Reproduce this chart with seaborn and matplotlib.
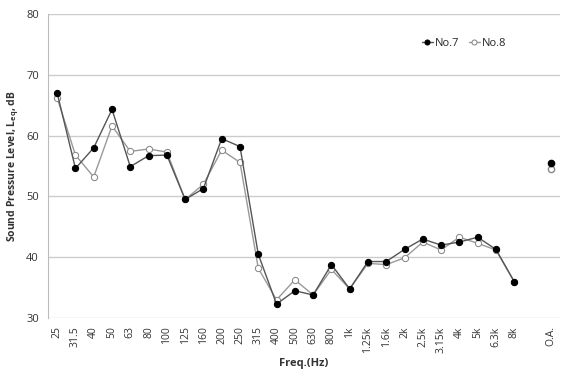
import matplotlib
matplotlib.use("Agg")
import matplotlib.pyplot as plt
import numpy as np
import pandas as pd
import seaborn as sns

freqs = ["25", "31.5", "40", "50", "63", "80", "100", "125", "160", "200", "250",
         "315", "400", "500", "630", "800", "1k", "1.25k", "1.6k", "2k", "2.5k",
         "3.15k", "4k", "5k", "6.3k", "8k"]
no7 = [67.0, 54.6, 58.0, 64.3, 54.9, 56.7, 56.8, 49.5, 51.3, 59.5, 58.2,
       40.5, 32.3, 34.5, 33.8, 38.8, 34.8, 39.3, 39.3, 41.3, 43.0,
       42.0, 42.5, 43.3, 41.3, 36.0]
no8 = [66.2, 56.8, 53.2, 61.6, 57.4, 57.8, 57.3, 49.5, 52.0, 57.6, 55.6,
       38.2, 33.0, 36.3, 33.8, 38.0, 34.8, 39.0, 38.8, 39.9, 42.5,
       41.2, 43.3, 42.3, 41.2, 36.0]
oa_label = "O.A."
oa_no7 = 55.5
oa_no8 = 54.5

tick_labels = freqs + ["", oa_label]
pos = np.arange(len(freqs))
oa_pos = len(freqs) + 1

df = pd.DataFrame({"pos": pos, "No.7": no7, "No.8": no8})

sns.set_style("white")
plt.rcParams["font.family"] = ["Open Sans", "DejaVu Sans"]

fig, ax = plt.subplots(figsize=(5.65, 3.87), dpi=100)
fig.subplots_adjust(left=0.085, right=0.991, top=0.964, bottom=0.178)

ms = 4.5
sns.lineplot(data=df, x="pos", y="No.7", ax=ax, color="#555555", linewidth=1,
             marker="o", markersize=ms, markerfacecolor="black",
             markeredgecolor="black", label="No.7", zorder=3)
sns.lineplot(data=df, x="pos", y="No.8", ax=ax, color="#999999", linewidth=1,
             marker="o", markersize=ms, markerfacecolor="white",
             markeredgecolor="#888888", label="No.8", zorder=2)
ax.plot([oa_pos], [oa_no8], marker="o", markersize=ms, markerfacecolor="white",
        markeredgecolor="#888888", linestyle="none", zorder=2)
ax.plot([oa_pos], [oa_no7], marker="o", markersize=ms, markerfacecolor="black",
        markeredgecolor="black", linestyle="none", zorder=3)

ax.set_ylim(30, 80)
ax.set_yticks(range(30, 81, 10))
ax.set_xlim(-0.5, len(tick_labels) - 0.5)
ax.set_xticks(range(len(tick_labels)))
ax.set_xticklabels(tick_labels, rotation=90, fontsize=7.5, color="#333333")
ax.tick_params(axis="y", labelsize=8, colors="#333333", length=3, color="#bbbbbb")
ax.tick_params(axis="x", length=0, pad=6)

ax.yaxis.grid(True, color="#cccccc", linewidth=1)
ax.xaxis.grid(False)
for s in ["top", "right", "bottom"]:
    ax.spines[s].set_visible(False)
ax.spines["left"].set_color("#bbbbbb")

ax.set_xlabel("Freq.(Hz)", fontsize=8, fontweight="bold", color="#333333")
ax.set_ylabel(r"Sound Pressure Level, L$_{\mathregular{eq}}$, dB", fontsize=7.5,
              fontweight="bold", color="#333333")

ax.legend(loc="upper right", bbox_to_anchor=(0.915, 0.955), ncol=2, frameon=False,
          fontsize=8, handlelength=1.0, handletextpad=0.2, columnspacing=0.8,
          markerscale=0.8)

plt.savefig("out.png", dpi=100)
plt.close(fig)
